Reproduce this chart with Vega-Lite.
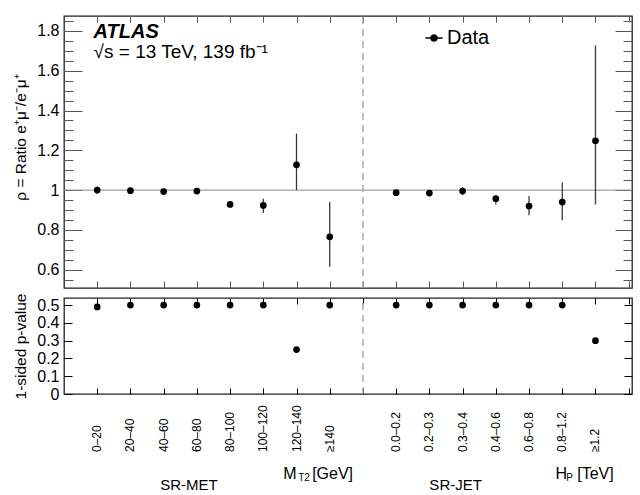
{
  "$schema": "https://vega.github.io/schema/vega-lite/v6.json",
  "background": "white",
  "padding": {"left": 13, "top": 14, "right": 8, "bottom": 0},
  "bounds": "flush",
  "spacing": 10,
  "datasets": {
    "bins": [
      {"bin": 1, "label": "0–20", "rho": 1.0, "lo": 0.982, "hi": 1.018, "p": 0.49},
      {"bin": 2, "label": "20–40", "rho": 0.997, "lo": 0.982, "hi": 1.013, "p": 0.5},
      {"bin": 3, "label": "40–60", "rho": 0.993, "lo": 0.979, "hi": 1.007, "p": 0.5},
      {"bin": 4, "label": "60–80", "rho": 0.995, "lo": 0.981, "hi": 1.009, "p": 0.5},
      {"bin": 5, "label": "80–100", "rho": 0.928, "lo": 0.916, "hi": 0.94, "p": 0.5},
      {"bin": 6, "label": "100–120", "rho": 0.923, "lo": 0.885, "hi": 0.957, "p": 0.5},
      {"bin": 7, "label": "120–140", "rho": 1.127, "lo": 1.0, "hi": 1.284, "p": 0.25},
      {"bin": 8, "label": "≥140", "rho": 0.765, "lo": 0.615, "hi": 0.94, "p": 0.5},
      {"bin": 10, "label": "0.0–0.2", "rho": 0.987, "lo": 0.976, "hi": 1.0, "p": 0.5},
      {"bin": 11, "label": "0.2–0.3", "rho": 0.985, "lo": 0.975, "hi": 0.997, "p": 0.5},
      {"bin": 12, "label": "0.3–0.4", "rho": 0.995, "lo": 0.975, "hi": 1.015, "p": 0.5},
      {"bin": 13, "label": "0.4–0.6", "rho": 0.957, "lo": 0.928, "hi": 0.973, "p": 0.5},
      {"bin": 14, "label": "0.6–0.8", "rho": 0.92, "lo": 0.873, "hi": 0.97, "p": 0.5},
      {"bin": 15, "label": "0.8–1.2", "rho": 0.94, "lo": 0.848, "hi": 1.038, "p": 0.5},
      {"bin": 16, "label": "≥1.2", "rho": 1.248, "lo": 0.928, "hi": 1.727, "p": 0.3}
    ],
    "notes": [
      {"part": "group", "x": 3.76, "y": 81, "text": "SR-MET"},
      {"part": "group", "x": 11.79, "y": 81, "text": "SR-JET"},
      {"part": "main", "x": 6.6, "y": 70, "text": "M"},
      {"part": "sub", "x": 7.05, "y": 74, "text": "T2"},
      {"part": "main", "x": 7.47, "y": 70, "text": "[GeV]"},
      {"part": "main", "x": 14.8, "y": 70, "text": "H"},
      {"part": "sub", "x": 15.12, "y": 74, "text": "P"},
      {"part": "main", "x": 15.45, "y": 70, "text": "[TeV]"}
    ],
    "one": [{"n": 1}]
  },
  "vconcat": [
    {
      "width": 568,
      "height": 272,
      "layer": [
        {
          "data": {"name": "one"},
          "mark": {"type": "rule", "color": "#888", "strokeWidth": 1},
          "encoding": {
            "x": {"datum": 0, "type": "quantitative", "scale": {"domain": [0, 17.1], "nice": false, "zero": false}, "axis": null},
            "x2": {"datum": 17.1},
            "y": {"datum": 1, "type": "quantitative", "scale": {"domain": [0.508, 1.875], "nice": false, "zero": false},
              "axis": {"orient": "left", "values": [0.55, 0.65, 0.7, 0.75, 0.85, 0.9, 0.95, 1.05, 1.1, 1.15, 1.25, 1.3, 1.35, 1.45, 1.5, 1.55, 1.65, 1.7, 1.75, 1.85], "tickSize": -9, "labels": false, "title": null, "tickColor": "#555"}}
          }
        },
        {
          "data": {"name": "one"},
          "mark": {"type": "rule", "color": "#aaa", "strokeDash": [7, 5], "strokeWidth": 1.5},
          "encoding": {
            "x": {"datum": 9, "type": "quantitative", "scale": {"domain": [0, 17.1], "nice": false, "zero": false},
              "axis": {"orient": "top", "values": [1, 2, 3, 4, 5, 6, 7, 8, 9, 10, 11, 12, 13, 14, 15, 16, 17], "tickSize": -6, "labels": false, "title": null, "tickColor": "#555"}},
            "y": {"datum": 0.508, "type": "quantitative", "scale": {"domain": [0.508, 1.875], "nice": false, "zero": false},
              "axis": {"orient": "right", "values": [0.55, 0.65, 0.7, 0.75, 0.85, 0.9, 0.95, 1.05, 1.1, 1.15, 1.25, 1.3, 1.35, 1.45, 1.5, 1.55, 1.65, 1.7, 1.75, 1.85], "tickSize": -9, "labels": false, "title": null, "tickColor": "#555"}},
            "y2": {"datum": 1.875}
          }
        },
        {
          "data": {"name": "bins"},
          "mark": {"type": "rule", "color": "#3a3a3a", "strokeWidth": 1.3},
          "encoding": {
            "x": {"field": "bin", "type": "quantitative", "scale": {"domain": [0, 17.1], "nice": false, "zero": false},
              "axis": {"orient": "bottom", "values": [1, 2, 3, 4, 5, 6, 7, 8, 9, 10, 11, 12, 13, 14, 15, 16, 17], "tickSize": -7, "labels": false, "title": null, "tickColor": "#555"}},
            "y": {"field": "lo", "type": "quantitative", "scale": {"domain": [0.508, 1.875], "nice": false, "zero": false},
              "axis": {"orient": "left", "values": [0.6, 0.8, 1, 1.2, 1.4, 1.6, 1.8], "format": "~g", "tickSize": -18, "labelFontSize": 16, "labelPadding": 23, "tickColor": "#555",
                "title": "ρ = Ratio e⁺μ⁻/e⁻μ⁺", "titleFontSize": 15.5, "titlePadding": 8, "titleY": 121}},
            "y2": {"field": "hi"}
          }
        },
        {
          "data": {"name": "bins"},
          "mark": {"type": "point", "filled": true, "shape": "circle", "size": 45, "opacity": 1},
          "encoding": {
            "x": {"field": "bin", "type": "quantitative", "scale": {"domain": [0, 17.1], "nice": false, "zero": false}, "axis": null},
            "y": {"field": "rho", "type": "quantitative", "scale": {"domain": [0.508, 1.875], "nice": false, "zero": false},
              "axis": {"orient": "right", "values": [0.6, 0.8, 1, 1.2, 1.4, 1.6, 1.8], "tickSize": -17, "labels": false, "title": null, "tickColor": "#555"}},
            "color": {"datum": "Data", "type": "nominal", "scale": {"range": ["black"]},
              "legend": {"orient": "none", "legendX": 360, "legendY": 12, "title": null, "labelFontSize": 20, "labelOffset": 3,
                "symbolType": "M-1,0L1,0M-0.36,0A0.36,0.36 0 1,1 0.36,0A0.36,0.36 0 1,1 -0.36,0Z", "symbolSize": 300,
                "symbolStrokeColor": "black", "symbolStrokeWidth": 1.3, "symbolFillColor": "black",
                "encode": {"symbols": {"enter": {"stroke": {"value": "black"}, "strokeWidth": {"value": 1.3}}, "update": {"stroke": {"value": "black"}, "strokeWidth": {"value": 1.3}, "fill": {"value": "black"}, "opacity": {"value": 1}}}}}}
          }
        },
        {
          "data": {"name": "one"},
          "mark": {"type": "text", "text": "ATLAS", "fontStyle": "italic", "fontWeight": "bold", "fontSize": 20, "align": "left", "baseline": "middle"},
          "encoding": {
            "x": {"datum": 0.89, "type": "quantitative", "scale": {"domain": [0, 17.1], "nice": false, "zero": false}, "axis": null},
            "y": {"datum": 1.795, "type": "quantitative", "scale": {"domain": [0.508, 1.875], "nice": false, "zero": false}, "axis": null}
          }
        },
        {
          "data": {"name": "one"},
          "mark": {"type": "text", "text": "√s = 13 TeV, 139 fb⁻¹", "fontSize": 19, "align": "left", "baseline": "middle"},
          "encoding": {
            "x": {"datum": 0.89, "type": "quantitative", "scale": {"domain": [0, 17.1], "nice": false, "zero": false}, "axis": null},
            "y": {"datum": 1.694, "type": "quantitative", "scale": {"domain": [0.508, 1.875], "nice": false, "zero": false}, "axis": null}
          }
        }
      ],
      "resolve": {"axis": {"x": "independent", "y": "independent"}}
    },
    {
      "width": 568,
      "height": 96,
      "layer": [
        {
          "data": {"name": "one"},
          "mark": {"type": "rule", "color": "#aaa", "strokeDash": [7, 5], "strokeWidth": 1.5},
          "encoding": {
            "x": {"datum": 9, "type": "quantitative", "scale": {"domain": [0, 17.1], "nice": false, "zero": false},
              "axis": {"orient": "top", "values": [1, 2, 3, 4, 5, 6, 7, 8, 9, 10, 11, 12, 13, 14, 15, 16, 17], "tickSize": -6, "labels": false, "title": null}},
            "y": {"datum": 0, "type": "quantitative", "scale": {"domain": [0, 0.54], "nice": false, "zero": false},
              "axis": {"orient": "right", "values": [0, 0.1, 0.2, 0.3, 0.4, 0.5], "tickSize": -8, "labels": false, "title": null}},
            "y2": {"datum": 0.54}
          }
        },
        {
          "data": {"name": "bins"},
          "mark": {"type": "point", "filled": true, "shape": "circle", "size": 45, "opacity": 1, "color": "black"},
          "encoding": {
            "x": {"field": "bin", "type": "quantitative", "scale": {"domain": [0, 17.1], "nice": false, "zero": false},
              "axis": {"orient": "bottom", "values": [1, 2, 3, 4, 5, 6, 7, 8, 9, 10, 11, 12, 13, 14, 15, 16, 17], "tickSize": -6, "labels": false, "title": null}},
            "y": {"field": "p", "type": "quantitative", "scale": {"domain": [0, 0.54], "nice": false, "zero": false},
              "axis": {"orient": "left", "values": [0, 0.1, 0.2, 0.3, 0.4, 0.5], "format": "~g", "tickSize": -8, "labelFontSize": 16, "labelPadding": 13,
                "title": "1-sided p-value", "titleFontSize": 15.5, "titlePadding": 8}}
          }
        }
      ],
      "resolve": {"axis": {"x": "independent", "y": "independent"}}
    },
    {
      "width": 568,
      "height": 90,
      "view": {"stroke": null},
      "layer": [
        {
          "data": {"name": "bins"},
          "mark": {"type": "text", "angle": 270, "align": "left", "baseline": "middle", "fontSize": 12},
          "encoding": {
            "x": {"field": "bin", "type": "quantitative", "scale": {"domain": [0, 17.1], "nice": false, "zero": false}, "axis": null},
            "y": {"datum": 48, "type": "quantitative", "scale": {"domain": [0, 90], "reverse": true, "nice": false, "zero": false}, "axis": null},
            "text": {"field": "label"}
          }
        },
        {
          "data": {"name": "notes"},
          "transform": [{"filter": "datum.part == 'group'"}],
          "mark": {"type": "text", "align": "center", "baseline": "middle", "fontSize": 15},
          "encoding": {
            "x": {"field": "x", "type": "quantitative", "scale": {"domain": [0, 17.1], "nice": false, "zero": false}, "axis": null},
            "y": {"field": "y", "type": "quantitative", "scale": {"domain": [0, 90], "reverse": true, "nice": false, "zero": false}, "axis": null},
            "text": {"field": "text"}
          }
        },
        {
          "data": {"name": "notes"},
          "transform": [{"filter": "datum.part == 'main'"}],
          "mark": {"type": "text", "align": "left", "baseline": "middle", "fontSize": 16},
          "encoding": {
            "x": {"field": "x", "type": "quantitative", "scale": {"domain": [0, 17.1], "nice": false, "zero": false}, "axis": null},
            "y": {"field": "y", "type": "quantitative", "scale": {"domain": [0, 90], "reverse": true, "nice": false, "zero": false}, "axis": null},
            "text": {"field": "text"}
          }
        },
        {
          "data": {"name": "notes"},
          "transform": [{"filter": "datum.part == 'sub'"}],
          "mark": {"type": "text", "align": "left", "baseline": "middle", "fontSize": 10},
          "encoding": {
            "x": {"field": "x", "type": "quantitative", "scale": {"domain": [0, 17.1], "nice": false, "zero": false}, "axis": null},
            "y": {"field": "y", "type": "quantitative", "scale": {"domain": [0, 90], "reverse": true, "nice": false, "zero": false}, "axis": null},
            "text": {"field": "text"}
          }
        }
      ]
    }
  ],
  "config": {
    "font": "Liberation Sans",
    "view": {"stroke": "#222", "strokeWidth": 1.3},
    "text": {"color": "black", "font": "Liberation Sans"},
    "axis": {"domain": false, "grid": false, "tickColor": "black", "tickWidth": 1, "labelColor": "black", "titleColor": "black",
      "labelFont": "Liberation Sans", "titleFont": "Liberation Sans", "titleFontWeight": "normal"},
    "legend": {"labelFont": "Liberation Sans", "labelColor": "black"}
  }
}
